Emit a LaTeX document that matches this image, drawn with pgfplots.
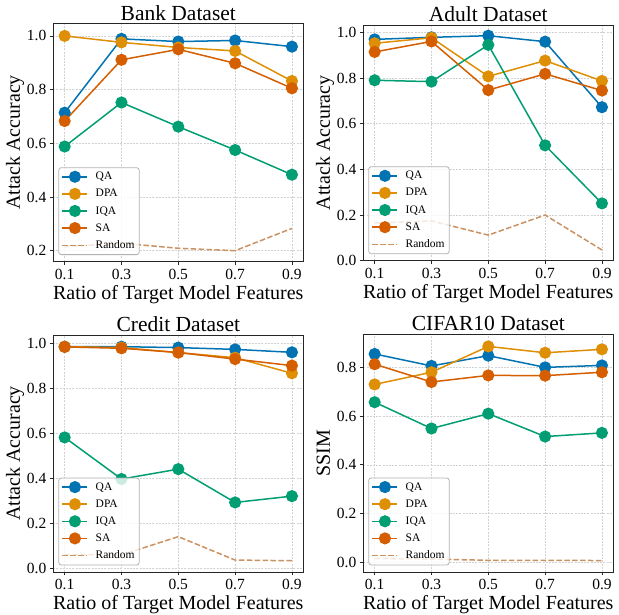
\documentclass[border=0pt]{standalone}
\usepackage{pgfplots}
\pgfplotsset{compat=1.18}
\usepackage{pgfplotstable}
\usepackage{fontspec}
\setmainfont{Liberation Serif}

\definecolor{cQA}{HTML}{0173B2}
\definecolor{cDPA}{HTML}{DE8F05}
\definecolor{cIQA}{HTML}{029E73}
\definecolor{cSA}{HTML}{D55E00}
\definecolor{cRND}{HTML}{CA9161}

\pgfplotstableread{
x qa dpa iqa sa rnd
0.1 0.714 1.000 0.588 0.683 0.215
0.3 0.989 0.976 0.752 0.911 0.228
0.5 0.979 0.957 0.662 0.950 0.209
0.7 0.983 0.944 0.575 0.898 0.200
0.9 0.960 0.832 0.483 0.805 0.283
}\bank
\pgfplotstableread{
x qa dpa iqa sa rnd
0.1 0.969 0.952 0.790 0.914 0.165
0.3 0.978 0.976 0.784 0.960 0.174
0.5 0.985 0.807 0.945 0.747 0.112
0.7 0.959 0.876 0.505 0.818 0.200
0.9 0.672 0.787 0.251 0.745 0.047
}\adult
\pgfplotstableread{
x qa dpa iqa sa rnd
0.1 0.985 0.985 0.582 0.984 0.062
0.3 0.985 0.981 0.397 0.978 0.060
0.5 0.981 0.959 0.441 0.959 0.141
0.7 0.973 0.936 0.293 0.930 0.037
0.9 0.960 0.867 0.321 0.901 0.034
}\credit
\pgfplotstableread{
x qa dpa iqa sa rnd
0.1 0.855 0.730 0.657 0.813 0.015
0.3 0.806 0.780 0.549 0.740 0.013
0.5 0.848 0.886 0.610 0.767 0.008
0.7 0.800 0.860 0.516 0.766 0.008
0.9 0.808 0.874 0.531 0.780 0.007
}\cifar

\pgfplotsset{
  panel/.style={
    scale only axis, width=250pt,
    xmin=0.06, xmax=0.94,
    xtick={0.1,0.3,0.5,0.7,0.9},
    tick pos=left,
    tick align=outside, major tick length=3.5pt,
    tick style={black!85, line width=0.8pt},
    axis line style={black!85, line width=0.8pt},
    grid=major,
    grid style={gray!35, line width=0.5pt, dash pattern=on 2pt off 1.2pt},
    /pgf/number format/assume math mode=true,
    tick label style={font=\fontsize{15.5}{18}\selectfont,
      /pgf/number format/fixed, /pgf/number format/fixed zerofill,
      /pgf/number format/precision=1},
    scaled ticks=false,
    title style={font=\fontsize{21.5}{24}\selectfont, at={(axis description cs:0.5,1)}, anchor=base, yshift=-3pt},
    xlabel={Ratio of Target Model Features},
    xlabel style={font=\fontsize{20}{24}\selectfont, at={([yshift=-37.5pt]axis description cs:0.5,0)}, anchor=base},
    ylabel style={font=\fontsize{20}{24}\selectfont, at={([xshift=-33.5pt]axis description cs:0,0.5)}, anchor=base},
    legend style={at={(axis description cs:0.02,0.028)}, anchor=south west,
      draw=black!30, draw opacity=1, line width=0.8pt, rounded corners=2.5pt, fill=white, fill opacity=0.8, text opacity=1,
      font=\fontsize{11.5}{13}\selectfont, inner sep=3pt, row sep=5pt,
      nodes={inner sep=1.5pt},
      /tikz/every odd column/.append style={column sep=6pt}},
    legend cell align=left,
    legend image code/.code={\draw[line width=1.5pt, fill opacity=1, draw opacity=1, mark repeat=2,mark phase=2] plot coordinates {(0pt,0pt) (12.5pt,0pt) (25pt,0pt)};},
  },
  s/.style={#1, line width=1.5pt, mark=*, mark size=5.3pt, mark options={solid, fill=#1, draw=#1}},
  r/.style={cRND, line width=1.5pt, dash pattern=on 5.5pt off 2.4pt},
}

\begin{document}
\begin{tikzpicture}
\useasboundingbox (0,0) rectangle (619pt,615pt);

\begin{axis}[panel, at={(53.3pt,353.3pt)}, anchor=south west, height=238.4pt,
  ymin=0.159, ymax=1.047, ytick={0.2,0.4,0.6,0.8,1.0},
  title={Bank Dataset}, ylabel={Attack Accuracy}]
\addplot[s=cQA] table[x=x,y=qa]{\bank};
\addplot[s=cDPA] table[x=x,y=dpa]{\bank};
\addplot[s=cIQA] table[x=x,y=iqa]{\bank};
\addplot[s=cSA] table[x=x,y=sa]{\bank};
\addplot[r] table[x=x,y=rnd]{\bank};
\legend{QA,DPA,IQA,SA,Random}
\end{axis}

\begin{axis}[panel, at={(363.3pt,354.3pt)}, anchor=south west, height=235.7pt,
  ymin=0, ymax=1.032, ytick={0,0.2,0.4,0.6,0.8,1.0},
  title={Adult Dataset}, ylabel={Attack Accuracy}]
\addplot[s=cQA] table[x=x,y=qa]{\adult};
\addplot[s=cDPA] table[x=x,y=dpa]{\adult};
\addplot[s=cIQA] table[x=x,y=iqa]{\adult};
\addplot[s=cSA] table[x=x,y=sa]{\adult};
\addplot[r] table[x=x,y=rnd]{\adult};
\legend{QA,DPA,IQA,SA,Random}
\end{axis}

\begin{axis}[panel, at={(53.3pt,43pt)}, anchor=south west, height=237pt,
  ymin=-0.016, ymax=1.037, ytick={0,0.2,0.4,0.6,0.8,1.0},
  title={Credit Dataset}, ylabel={Attack Accuracy}]
\addplot[s=cQA] table[x=x,y=qa]{\credit};
\addplot[s=cDPA] table[x=x,y=dpa]{\credit};
\addplot[s=cIQA] table[x=x,y=iqa]{\credit};
\addplot[s=cSA] table[x=x,y=sa]{\credit};
\addplot[r] table[x=x,y=rnd]{\credit};
\legend{QA,DPA,IQA,SA,Random}
\end{axis}

\begin{axis}[panel, at={(363.3pt,43pt)}, anchor=south west, height=238pt,
  ymin=-0.040, ymax=0.937, ytick={0,0.2,0.4,0.6,0.8},
  title={CIFAR10 Dataset}, ylabel={SSIM}]
\addplot[s=cQA] table[x=x,y=qa]{\cifar};
\addplot[s=cDPA] table[x=x,y=dpa]{\cifar};
\addplot[s=cIQA] table[x=x,y=iqa]{\cifar};
\addplot[s=cSA] table[x=x,y=sa]{\cifar};
\addplot[r] table[x=x,y=rnd]{\cifar};
\legend{QA,DPA,IQA,SA,Random}
\end{axis}
\end{tikzpicture}
\end{document}
